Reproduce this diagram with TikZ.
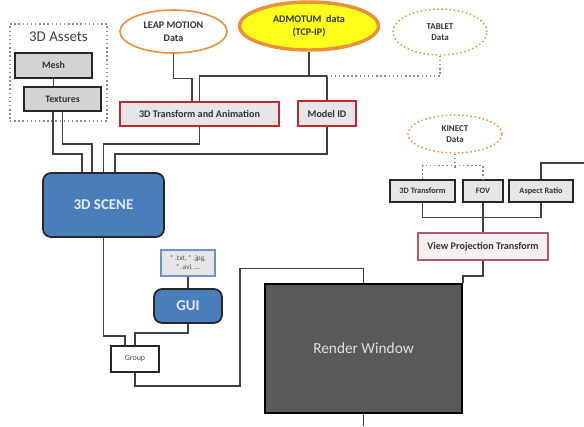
\documentclass[tikz,border=0pt]{standalone}
\usepackage{fontspec}
\setmainfont{Carlito}
\usetikzlibrary{shapes.geometric}

\definecolor{sceneblue}{HTML}{4A7EBB}
\definecolor{wiregray}{HTML}{404040}
\definecolor{boxgray}{HTML}{E6E6E6}
\definecolor{meshgray}{HTML}{D4D4D4}
\definecolor{redline}{HTML}{C0282D}
\definecolor{orangeline}{HTML}{E8913A}
\definecolor{admyellow}{HTML}{FFFF1E}
\definecolor{renderfill}{HTML}{595959}
\definecolor{vptline}{HTML}{B05A66}
\definecolor{vptfill}{HTML}{F9F1F1}
\definecolor{filesline}{HTML}{6A93C8}
\definecolor{lighttext}{HTML}{E4ECF6}

\begin{document}
\begin{tikzpicture}[x=0.75pt,y=-0.75pt,
    wire/.style={draw=wiregray,line width=1.1pt},
    dotwire/.style={draw=wiregray!60,line width=1.1pt,dotted},
    graybox/.style={draw=black!85,fill=boxgray,line width=1.6pt,inner sep=0pt,
        text=black!80,font=\fontsize{6.2}{7.5}\selectfont\bfseries},
    assetbox/.style={graybox,fill=meshgray,font=\fontsize{7.4}{9}\selectfont\bfseries},
    redbox/.style={draw=redline,fill=boxgray,line width=1.5pt,inner sep=0pt,
        text=black!80,font=\fontsize{7.6}{9}\selectfont\bfseries},
    bluebox/.style={draw=black!85,fill=sceneblue,line width=1.3pt,rounded corners=6pt,
        inner sep=0pt,text=lighttext,font=\fontsize{11.2}{13}\selectfont\bfseries},
    dataell/.style={ellipse,draw=orangeline,fill=white,line width=1.2pt,inner sep=0pt,
        align=center,text=black!80,font=\fontsize{7.6}{9.5}\selectfont\bfseries},
    dotell/.style={dataell,line width=1.1pt,dotted,font=\fontsize{6.7}{8.5}\selectfont\bfseries}]

    \useasboundingbox (0,0) rectangle (584,426);

    % 3D assets
    \node[draw=black!45,line width=1.1pt,dotted,minimum width=72.75pt,minimum height=72.75pt,
        inner sep=0pt] (assets) at (58.5,72.5) {};
    \node[font=\fontsize{11.2}{13}\selectfont,text=black!75] (assetstitle) at (58.5,37) {3D Assets};
    \node[assetbox,minimum width=57.75pt,minimum height=18.75pt] (mesh) at (53.5,65.5) {Mesh};
    \node[assetbox,minimum width=57.75pt,minimum height=18pt] (textures) at (62.5,99) {Textures};

    % data sources
    \node[dataell,minimum width=80.25pt,minimum height=32.25pt] (leap) at (173.5,31.5) {LEAP MOTION\\Data};
    \node[dataell,fill=admyellow,line width=2.6pt,minimum width=104.25pt,minimum height=36pt]
        (admotum) at (309,26) {ADMOTUM~ data\\(TCP-IP)};
    \node[dotell,minimum width=70.5pt,minimum height=34.5pt] (tablet) at (440,32) {TABLET\\Data};
    \node[dotell,minimum width=70.5pt,minimum height=28.5pt] (kinect) at (455,134) {KINECT\\Data};

    \node[redbox,minimum width=119.25pt,minimum height=18pt] (anim) at (199.5,114) {3D Transform and Animation};
    \node[redbox,minimum width=43.5pt,minimum height=18.75pt] (modelid) at (327,113.5) {Model ID};

    % view
    \node[graybox,minimum width=48.75pt,minimum height=16.5pt] (tdt) at (422.5,191) {3D Transform};
    \node[graybox,minimum width=30pt,minimum height=16.5pt] (fov) at (483,191) {FOV};
    \node[graybox,minimum width=48pt,minimum height=16.5pt] (aspect) at (541,191) {Aspect Ratio};
    \node[redbox,draw=vptline,fill=vptfill,line width=1.2pt,minimum width=97.5pt,minimum height=20.25pt]
        (vpt) at (483,246.5) {View Projection Transform};

    % scene, gui, output
    \node[bluebox,minimum width=90.75pt,minimum height=48pt] (scene) at (103.5,205) {3D SCENE};
    \node[draw=filesline,fill=boxgray,line width=1.1pt,minimum width=40.5pt,minimum height=19.5pt,
        inner sep=0pt,align=center,text=black!70,font=\fontsize{5.4}{6.4}\selectfont]
        (files) at (188,263) {* .txt, * .jpg,\\* .avi, ...};
    \node[bluebox,minimum width=51pt,minimum height=25.5pt] (gui) at (188,306) {GUI};
    \node[draw=black!85,fill=white,line width=1.3pt,minimum width=36pt,minimum height=19.5pt,
        inner sep=0pt,text=black!70,font=\fontsize{6}{7}\selectfont] (group) at (135,359) {Group};
    \node[draw=black,fill=renderfill,line width=1.3pt,minimum width=147.75pt,minimum height=96.75pt,
        inner sep=0pt,text=black!12,font=\fontsize{11.5}{14}\selectfont] (render) at (363.5,348.5) {Render Window};

    \coordinate (rightend) at (584,163);
    \coordinate (bottomend) at (363.5,426);

    % connectors
    \draw[wire] (mesh.south) -- (mesh.south |- textures.north);
    \draw[wire] ([xshift=-7pt]textures.south) -- ++(0,42) -| ([xshift=-16pt]scene.north);
    \draw[wire] (textures.south) -- ++(0,32) -| ([xshift=-8.6pt]scene.north);
    \draw[wire] (anim.south) -- ++(0,17) -| (scene.north);
    \draw[wire] (modelid.south) -- ++(0,27) -| ([xshift=8.6pt]scene.north);

    \draw[wire] (leap.south) -- ++(0,24.5) -| ([xshift=-5.6pt]anim.north);
    \draw[wire] (anim.north) |- ([yshift=18pt]modelid.north) -- (modelid.north);
    \draw[wire] (admotum.south) -- ([yshift=18pt]admotum.south |- modelid.north);
    \draw[dotwire] (tablet.south) |- ([yshift=18pt]modelid.north);

    \draw[dotwire] (kinect.south) -- ++(0,14);
    \draw[dotwire] (tdt.north) |- ([yshift=10pt]fov.north) -- (fov.north);
    \draw[wire] (tdt.south) |- ([yshift=-11pt]aspect.south) -- (aspect.south);
    \draw[wire] (fov.south) -- (vpt.north);
    \draw[wire] (aspect.north) |- (rightend);
    \draw[wire] (vpt.south) |- ([yshift=5.3pt]render.north east) -- (render.north east);

    \draw[wire] (files.south) -- (gui.north);
    \draw[wire] (scene.south) |- ([xshift=-7.5pt,yshift=7pt]group.north) -- ([xshift=-7.5pt]group.north);
    \draw[wire] (gui.south) |- ([yshift=9pt]group.north) -- (group.north);
    \draw[wire] (group.south) -- ++(0,13) -- ++(105,0) |- ([yshift=11pt]render.north) -- (render.north);
    \draw[wire] (render.south) -- (bottomend);
\end{tikzpicture}
\end{document}
